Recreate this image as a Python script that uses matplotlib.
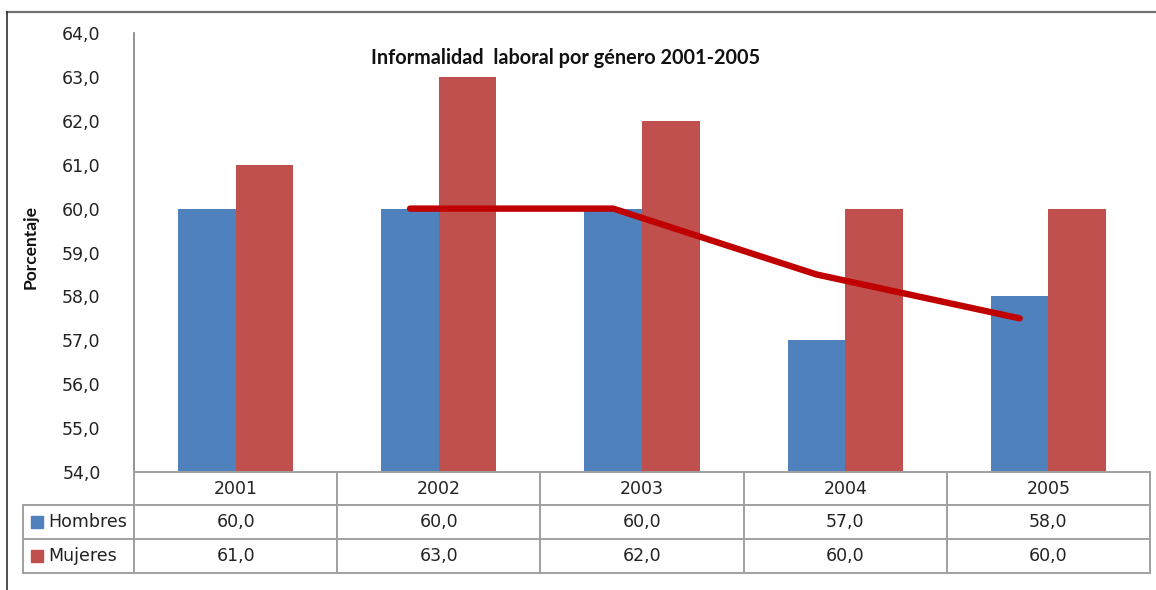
import matplotlib
matplotlib.use("Agg")
import matplotlib.pyplot as plt
import numpy as np

# data
years = ["2001", "2002", "2003", "2004", "2005"]
hombres = [60.0, 60.0, 60.0, 57.0, 58.0]
mujeres = [61.0, 63.0, 62.0, 60.0, 60.0]
tendencia_idx = [1, 2, 3, 4]          # years where the trend line is drawn
tendencia = [60.0, 60.0, 58.5, 57.5]  # trend line values (Hombres)
y_ticks = [54, 55, 56, 57, 58, 59, 60, 61, 62, 63, 64]

blue = "#4F81BD"
red = "#C0504D"
line_red = "#C00000"
grid_gray = "#A0A0A0"
txt = "#222222"
fs = 12.5

W, H = 1156, 590
fig = plt.figure(figsize=(W / 100, H / 100), dpi=100)

# pixel layout
ax_left, ax_right, ax_top, ax_bottom = 134, 1150, 33, 472
ax = fig.add_axes([ax_left / W, (H - ax_bottom) / H,
                   (ax_right - ax_left) / W, (ax_bottom - ax_top) / H])

x = np.arange(len(years))
w = 0.283
ax.bar(x - w / 2, hombres, w, color=blue, zorder=2)
ax.bar(x + w / 2, mujeres, w, color=red, zorder=2)
ax.plot(np.array(tendencia_idx) - w / 2, tendencia, color=line_red, lw=4.6,
        solid_capstyle="round", zorder=3)

ax.set_xlim(-0.5, len(years) - 0.5)
ax.set_ylim(54, 64)
ax.set_yticks(y_ticks)
ax.set_yticklabels([f"{v:.1f}".replace(".", ",") for v in y_ticks],
                   fontsize=fs, color=txt)
ax.tick_params(axis="y", length=0, pad=24)
ax.set_xticks([])
for s in ["top", "right", "bottom"]:
    ax.spines[s].set_visible(False)
ax.spines["left"].set_color("#808080")
ax.spines["left"].set_linewidth(1.2)

ax.text((566 - ax_left) / (ax_right - ax_left), (ax_bottom - 58) / (ax_bottom - ax_top),
        "Informalidad  laboral por género 2001-2005", transform=ax.transAxes,
        ha="center", va="center", fontsize=14.3, fontweight="bold",
        family="Lato", color="#111111")

# overlay axes in pixel coords for table, frame and y label
ov = fig.add_axes([0, 0, 1, 1], facecolor="none")
ov.set_xlim(0, W)
ov.set_ylim(H, 0)
ov.axis("off")

# outer frame (top and left)
ov.plot([7, W], [12, 12], color="#707070", lw=1.6)
ov.plot([7, 7], [12, H], color="#303030", lw=1.2)

ov.text(31, 247, "Porcentaje", rotation=90, ha="center", va="center",
        fontsize=12.5, fontweight="bold", family="Lato", color="#111111")

# data table
col_w = (ax_right - ax_left) / len(years)
rows = [472, 505, 539, 573]
leg_left = 23
lc = dict(color=grid_gray, lw=1.4)
ov.plot([ax_left, ax_right], [rows[0], rows[0]], **lc)
for r in rows[1:]:
    ov.plot([leg_left, ax_right], [r, r], **lc)
ov.plot([leg_left, leg_left], [rows[1], rows[3]], **lc)
for i in range(len(years) + 1):
    xe = ax_left + i * col_w
    ov.plot([xe, xe], [rows[0], rows[3]], **lc)

for i, yr in enumerate(years):
    xc = ax_left + (i + 0.5) * col_w
    ov.text(xc, (rows[0] + rows[1]) / 2, yr, ha="center", va="center",
            fontsize=fs, color=txt)
    ov.text(xc, (rows[1] + rows[2]) / 2, f"{hombres[i]:.1f}".replace(".", ","),
            ha="center", va="center", fontsize=fs, color=txt)
    ov.text(xc, (rows[2] + rows[3]) / 2, f"{mujeres[i]:.1f}".replace(".", ","),
            ha="center", va="center", fontsize=fs, color=txt)

for r0, r1, name, col in [(rows[1], rows[2], "Hombres", blue),
                          (rows[2], rows[3], "Mujeres", red)]:
    yc = (r0 + r1) / 2
    ov.add_patch(plt.Rectangle((31, yc - 6), 12, 12, color=col))
    ov.text(48, yc, name, ha="left", va="center", fontsize=fs, color=txt)

fig.savefig("out.png", dpi=100)
